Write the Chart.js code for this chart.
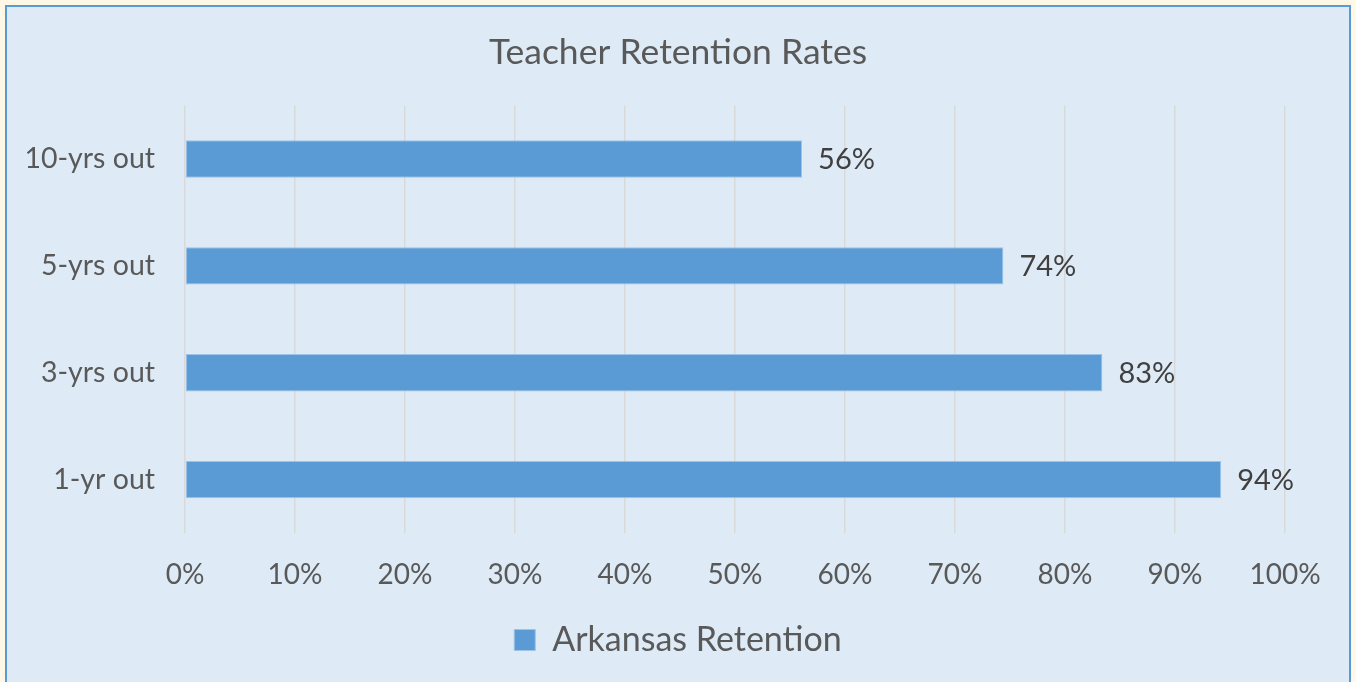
<!DOCTYPE html>
<html>
<head>
<meta charset="utf-8">
<script src="https://cdn.jsdelivr.net/npm/chart.js@4"></script>
<style>
  html, body { margin: 0; padding: 0; width: 1356px; height: 682px; overflow: hidden; background: #FFF8E6; }
  #frame { position: absolute; left: 5px; top: 5px; width: 1342px; height: 700px; border: 2px solid #5B9BD5; background: #DEEBF7; }
  #c { position: absolute; left: 0; top: 0; }
</style>
</head>
<body>
<div id="frame"></div>
<canvas id="c" width="1356" height="682"></canvas>
<script>
const categories = ['10-yrs out', '5-yrs out', '3-yrs out', '1-yr out'];
const retention = [56.1, 74.4, 83.4, 94.2];
const seriesName = 'Arkansas Retention';
const chartTitle = 'Teacher Retention Rates';
const FONT = 'Lato';
const TEXT = '#595959';

const valueLabels = {
  id: 'valueLabels',
  afterDatasetsDraw(chart) {
    const ctx = chart.ctx;
    const meta = chart.getDatasetMeta(0);
    ctx.save();
    ctx.font = '29px ' + FONT;
    ctx.fillStyle = '#404040';
    ctx.textAlign = 'left';
    ctx.textBaseline = 'middle';
    meta.data.forEach((bar, i) => {
      ctx.fillText(Math.round(retention[i]) + '%', bar.x + 16, bar.y + 1);
    });
    ctx.restore();
  }
};

new Chart(document.getElementById('c'), {
  type: 'bar',
  data: {
    labels: categories,
    datasets: [{
      label: seriesName,
      data: retention,
      backgroundColor: '#5B9BD5',
      borderColor: '#9DC3E6',
      borderWidth: 1,
      borderSkipped: false,
      barPercentage: 0.35,
      categoryPercentage: 1.0,
      yAxisID: 'y'
    }]
  },
  options: {
    indexAxis: 'y',
    responsive: false,
    animation: false,
    devicePixelRatio: 1,
    layout: { padding: { left: 0, right: 0, top: 0, bottom: 15 } },
    scales: {
      x: {
        min: 0, max: 100,
        ticks: { stepSize: 10, callback: v => v + '%', color: TEXT, font: { family: FONT, size: 28 }, padding: 25, maxRotation: 0 },
        grid: { color: '#D9D9D9', lineWidth: 1.5, drawTicks: false },
        border: { display: false },
        afterFit: s => { s.height = 80; }
      },
      y: {
        ticks: { color: TEXT, font: { family: FONT, size: 28.5 }, padding: 30 },
        grid: { display: false, drawTicks: false },
        border: { display: false },
        afterFit: s => { s.width = 185; }
      },
      yR: {
        type: 'linear',
        position: 'right',
        ticks: { display: false },
        grid: { display: false, drawTicks: false },
        border: { display: false },
        afterFit: s => { s.width = 71; }
      }
    },
    plugins: {
      title: {
        display: true,
        text: chartTitle,
        color: TEXT,
        font: { family: FONT, size: 35.5, weight: 'normal' },
        padding: { top: 31, bottom: 32 }
      },
      legend: {
        display: true,
        position: 'bottom',
        labels: { color: TEXT, font: { family: FONT, size: 34 }, boxWidth: 21, boxHeight: 21, padding: 10 }
      },
      tooltip: { enabled: false }
    }
  },
  plugins: [valueLabels]
});
</script>
</body>
</html>
